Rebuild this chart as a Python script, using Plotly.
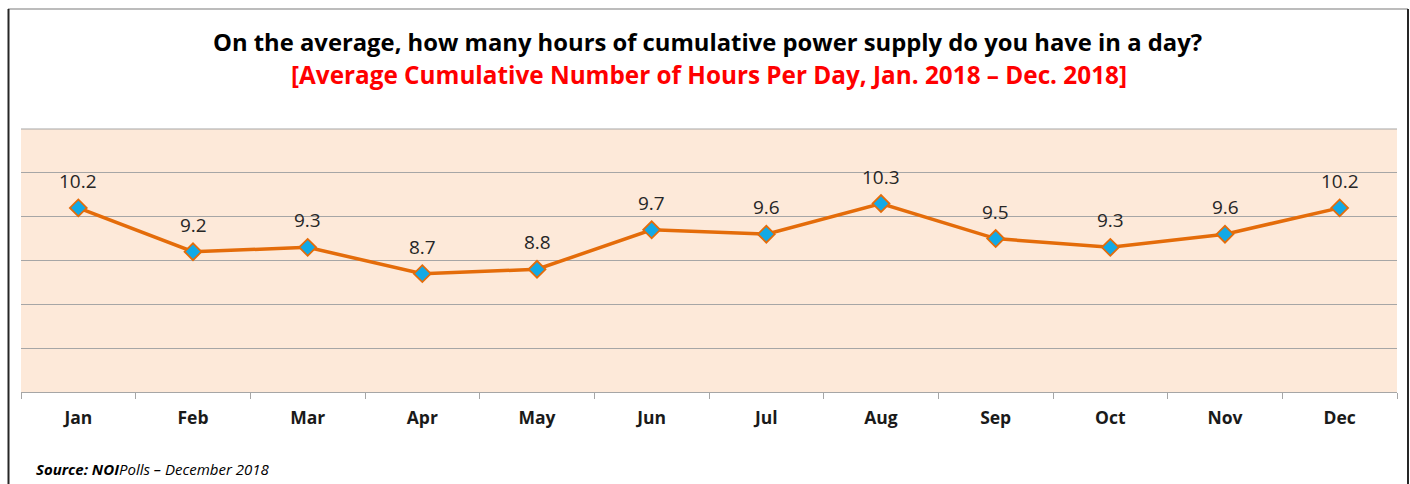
import plotly.graph_objects as go

months = ["Jan", "Feb", "Mar", "Apr", "May", "Jun", "Jul", "Aug", "Sep", "Oct", "Nov", "Dec"]
hours = [10.2, 9.2, 9.3, 8.7, 8.8, 9.7, 9.6, 10.3, 9.5, 9.3, 9.6, 10.2]
labels = [f"{v:.1f}" for v in hours]

W, H = 1410, 484
L, R, T, B = 21, 13, 129, 92
pw, ph = W - L - R, H - T - B
FONT = "Open Sans, Liberation Sans"

fig = go.Figure()
fig.add_trace(go.Scatter(
    x=months, y=hours, mode="lines+markers",
    line=dict(color="#E46C0A", width=3.5),
    marker=dict(symbol="diamond", size=13, color="#12A9E6",
                line=dict(color="#E46C0A", width=1.8)),
    cliponaxis=False, showlegend=False,
))

def px_x(x):
    return (x - L) / pw

def px_y(y):
    return (H - B - y) / ph

annotations = [
    dict(x=m, y=v, xref="x", yref="y", text=t, showarrow=False,
         yshift=27, xanchor="center", yanchor="middle",
         font=dict(family=FONT, size=19, color="#262626"))
    for m, v, t in zip(months, hours, labels)
]
annotations += [
    dict(xref="paper", yref="paper", x=px_x(707), y=px_y(42),
         text="<b>On the average, how many hours of cumulative power supply do you have in a day?</b>",
         showarrow=False, xanchor="center", yanchor="middle",
         font=dict(family=FONT, size=23.8, color="#000000")),
    dict(xref="paper", yref="paper", x=px_x(709), y=px_y(74),
         text="<b>[Average Cumulative Number of Hours Per Day, Jan. 2018 – Dec. 2018]</b>",
         showarrow=False, xanchor="center", yanchor="middle",
         font=dict(family=FONT, size=24.3, color="#FF0000")),
    dict(xref="paper", yref="paper", x=px_x(34), y=px_y(469),
         text="<b><i>Source: NOI</i></b><i>Polls – December 2018</i>",
         showarrow=False, xanchor="left", yanchor="middle",
         font=dict(family=FONT, size=15, color="#000000")),
]

fig.update_layout(
    width=W, height=H,
    margin=dict(l=L, r=R, t=T, b=B),
    paper_bgcolor="white",
    plot_bgcolor="#FDE9D9",
    xaxis=dict(
        type="category", range=[-0.5, len(months) - 0.5], showgrid=False,
        ticks="outside", tickson="boundaries",
        ticklen=6, tickcolor="#A6A6A6", showline=True, linecolor="#A6A6A6", linewidth=1,
        tickfont=dict(family=FONT, size=17.5, color="#1a1a1a", weight="bold"),
        ticklabelstandoff=10, fixedrange=True,
    ),
    yaxis=dict(
        range=[6, 12], dtick=1, showticklabels=False, showgrid=True,
        gridcolor="#A6A6A6", gridwidth=1, zeroline=False, showline=False, fixedrange=True,
    ),
    annotations=annotations,
    shapes=[
        dict(type="line", xref="paper", yref="paper",
             x0=px_x(8), x1=px_x(1408), y0=px_y(9), y1=px_y(9),
             line=dict(color="#A6A6A6", width=1.5)),
        dict(type="line", xref="paper", yref="paper",
             x0=px_x(8.5), x1=px_x(8.5), y0=px_y(9), y1=px_y(500),
             line=dict(color="#262626", width=2)),
        dict(type="line", xref="paper", yref="paper",
             x0=px_x(1408), x1=px_x(1408), y0=px_y(9), y1=px_y(500),
             line=dict(color="#262626", width=2)),
        dict(type="line", xref="paper", yref="paper",
             x0=0, x1=1, y0=1, y1=1,
             line=dict(color="#A6A6A6", width=1)),
    ],
)

fig.write_html("out.html", config={"displayModeBar": False},
               post_script="document.body.style.margin='0';document.body.style.overflow='hidden';")
